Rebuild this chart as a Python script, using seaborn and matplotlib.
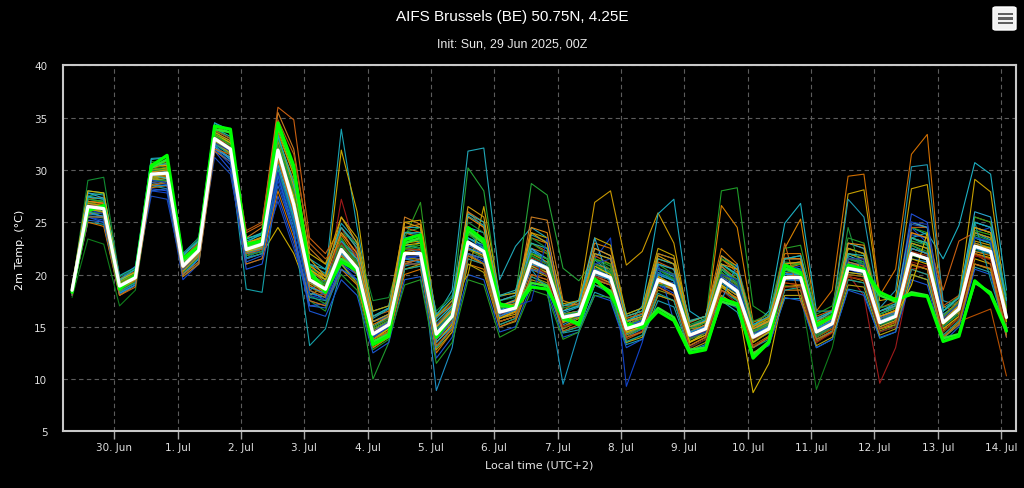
import numpy as np
import pandas as pd
import matplotlib
matplotlib.use('Agg')
import matplotlib.pyplot as plt
import matplotlib.dates as mdates
from matplotlib.ticker import MultipleLocator, FuncFormatter
from matplotlib.patches import FancyBboxPatch, Rectangle
import seaborn as sns

# Chart texts
title = 'AIFS Brussels (BE) 50.75N, 4.25E'
subtitle = 'Init: Sun, 29 Jun 2025, 00Z'
y_label = '2m Temp. (°C)'
x_label = 'Local time (UTC+2)'

# 6-hourly steps in local time, first output step +6h after 00Z init
first_step = '2025-06-29 08:00'
n_steps = 60

# Ensemble mean (white) and the two highlighted runs (green)
ens_mean = [18.5, 26.5, 26.3, 18.9, 19.7, 29.6, 29.7, 20.8, 22.3, 33.0,
            32.0, 22.4, 22.9, 31.9, 26.7, 19.5, 18.6, 22.4, 20.6, 14.3,
            15.2, 22.0, 22.0, 14.3, 16.0, 23.1, 22.2, 16.4, 16.8, 21.3,
            20.6, 15.9, 16.2, 20.3, 19.7, 14.8, 15.3, 19.5, 18.9, 14.2,
            14.8, 19.5, 18.4, 14.0, 14.8, 19.7, 19.7, 14.5, 15.3, 20.6,
            20.3, 15.4, 16.0, 22.0, 21.5, 15.4, 16.7, 22.7, 22.2, 15.9]
green1 = [18.3, 26.1, 26.6, 18.6, 19.9, 30.4, 31.4, 21.5, 22.7, 34.2,
          33.9, 22.9, 23.2, 34.5, 30.4, 20.2, 18.3, 21.2, 20.4, 13.3,
          14.1, 23.3, 23.8, 14.0, 16.0, 24.5, 23.3, 17.2, 16.8, 18.8,
          18.6, 15.9, 15.2, 19.6, 18.1, 15.3, 14.9, 16.5, 15.6, 12.5,
          12.8, 17.7, 17.2, 12.0, 13.5, 20.9, 20.2, 15.1, 16.0, 20.9,
          20.5, 18.3, 17.6, 18.1, 17.9, 13.6, 14.1, 19.4, 18.1, 14.6]
green2 = [18.4, 26.4, 26.4, 18.8, 19.7, 30.2, 31.0, 21.3, 22.5, 33.9,
          33.6, 22.6, 23.0, 34.2, 30.0, 20.4, 18.5, 21.5, 20.6, 13.6,
          14.3, 23.0, 23.5, 14.2, 16.1, 24.2, 23.0, 17.0, 16.9, 19.2,
          18.9, 15.7, 15.4, 19.4, 18.4, 15.1, 15.0, 16.8, 15.9, 12.8,
          13.0, 17.4, 17.0, 12.3, 13.6, 20.6, 20.0, 15.3, 15.9, 20.7,
          20.3, 18.0, 17.4, 18.3, 18.0, 13.9, 14.3, 19.2, 18.3, 14.8]

# Ensemble members
m01 = [18.4, 27.2, 27.0, 19.2, 20.1, 29.1, 29.8, 21.0, 22.8, 33.4,
       32.5, 22.0, 23.4, 32.8, 28.0, 20.6, 19.8, 33.9, 24.5, 16.0,
       16.8, 23.5, 23.0, 15.0, 16.5, 24.0, 22.5, 17.0, 17.4, 22.5,
       21.0, 16.3, 16.9, 21.4, 20.2, 15.5, 16.0, 20.5, 19.8, 14.8,
       15.6, 20.8, 19.0, 14.6, 15.1, 21.0, 20.5, 15.2, 15.8, 21.5,
       21.0, 16.0, 16.4, 23.5, 22.8, 16.2, 17.3, 24.0, 23.3, 16.8]
m02 = [18.7, 26.0, 25.5, 18.5, 19.4, 28.6, 28.9, 20.3, 21.8, 32.0,
       31.2, 21.5, 22.0, 24.5, 22.0, 18.0, 18.9, 31.9, 26.0, 15.0,
       15.8, 21.0, 21.5, 13.5, 15.2, 22.0, 21.0, 15.8, 16.2, 20.5,
       19.8, 15.0, 15.8, 19.6, 19.0, 14.2, 14.9, 18.8, 18.0, 13.6,
       14.2, 18.8, 17.7, 13.2, 14.1, 18.9, 18.8, 13.8, 14.6, 19.8,
       19.4, 14.8, 15.2, 20.9, 20.5, 14.6, 15.8, 21.5, 21.0, 15.0]
m03 = [18.6, 26.8, 26.9, 19.0, 19.5, 29.8, 30.2, 20.6, 22.0, 33.2,
       32.2, 22.8, 23.0, 30.5, 25.0, 19.0, 18.2, 27.2, 22.0, 14.0,
       15.0, 21.5, 21.8, 14.2, 15.8, 22.5, 21.8, 16.0, 16.5, 21.0,
       20.2, 15.6, 15.9, 20.0, 19.2, 14.5, 15.0, 19.0, 18.5, 13.9,
       14.5, 19.0, 18.0, 13.5, 14.5, 19.2, 19.0, 14.0, 14.8, 20.0,
       18.0, 9.6, 13.0, 20.5, 20.8, 14.8, 16.0, 21.8, 21.5, 15.2]
m04 = [18.2, 25.0, 24.8, 18.0, 19.0, 28.5, 28.2, 19.8, 21.0, 32.4,
       31.0, 18.6, 18.3, 29.5, 24.5, 13.2, 14.8, 20.5, 19.5, 13.5,
       14.5, 20.8, 21.2, 13.8, 15.5, 22.8, 22.0, 16.5, 17.0, 21.8,
       21.0, 16.2, 16.5, 20.8, 20.0, 15.2, 15.5, 20.0, 19.4, 14.6,
       15.0, 20.2, 19.0, 14.4, 15.2, 20.4, 20.0, 14.9, 15.6, 21.2,
       20.8, 16.0, 16.5, 22.8, 22.0, 15.9, 17.2, 23.5, 23.0, 16.5]
m05 = [18.0, 27.5, 27.8, 19.5, 20.0, 30.5, 30.8, 21.5, 23.0, 34.0,
       33.0, 23.5, 23.8, 33.5, 27.0, 17.5, 16.5, 21.0, 19.0, 10.0,
       13.5, 22.5, 23.0, 15.0, 16.2, 23.5, 22.8, 16.8, 17.0, 22.0,
       21.5, 15.0, 15.5, 20.8, 20.3, 14.0, 15.0, 20.2, 19.5, 13.5,
       14.4, 20.5, 19.2, 13.8, 14.6, 20.5, 20.2, 14.2, 15.0, 21.0,
       20.6, 15.0, 15.8, 22.5, 22.0, 15.0, 16.2, 23.0, 22.5, 15.5]
m06 = [18.3, 26.2, 26.0, 18.8, 19.8, 29.4, 29.5, 21.2, 22.5, 33.2,
       32.0, 22.0, 22.5, 32.0, 26.0, 18.5, 17.5, 23.0, 21.5, 14.8,
       15.6, 23.0, 22.5, 8.9, 13.0, 22.0, 21.5, 15.5, 16.0, 20.8,
       20.0, 15.2, 15.9, 19.8, 19.2, 14.3, 15.0, 19.0, 18.6, 13.8,
       14.6, 19.0, 18.0, 13.6, 14.4, 19.5, 19.4, 14.2, 15.0, 20.2,
       20.0, 15.2, 15.8, 21.5, 21.2, 15.0, 16.4, 22.2, 22.0, 15.8]
m07 = [18.8, 27.8, 27.6, 19.8, 20.5, 31.0, 31.2, 22.0, 23.5, 34.5,
       33.8, 23.0, 24.0, 33.0, 28.5, 21.0, 20.5, 24.5, 22.8, 16.5,
       17.0, 24.0, 23.8, 16.0, 18.5, 31.8, 32.1, 19.5, 22.7, 24.5,
       23.5, 17.0, 17.2, 22.5, 21.8, 16.2, 16.8, 22.0, 21.5, 15.6,
       16.0, 21.8, 20.5, 15.2, 16.0, 21.5, 21.5, 15.8, 16.5, 22.5,
       22.0, 16.5, 17.0, 24.5, 23.8, 16.8, 17.8, 25.0, 24.5, 17.5]
m08 = [18.5, 26.9, 27.0, 19.3, 20.2, 30.0, 30.2, 21.0, 22.6, 33.5,
       32.8, 22.5, 23.2, 32.5, 27.5, 20.0, 19.0, 23.5, 21.0, 15.5,
       16.2, 24.0, 24.5, 15.5, 17.0, 30.2, 28.0, 17.5, 18.0, 28.7,
       27.6, 20.6, 19.4, 21.5, 20.8, 15.8, 16.2, 21.0, 20.5, 15.2,
       15.8, 21.0, 20.0, 15.0, 15.6, 21.2, 21.0, 15.4, 16.0, 22.0,
       21.5, 16.2, 16.8, 23.2, 22.8, 16.0, 17.2, 23.8, 23.2, 16.8]
m09 = [18.4, 25.8, 25.6, 18.6, 19.6, 29.2, 29.0, 20.5, 22.0, 32.8,
       31.6, 22.2, 22.8, 31.0, 26.2, 19.8, 19.0, 22.5, 20.5, 14.5,
       15.5, 22.2, 22.0, 14.5, 16.2, 23.5, 22.5, 16.2, 16.8, 20.5,
       18.5, 9.5, 14.5, 19.5, 19.0, 14.0, 14.8, 19.2, 18.8, 14.0,
       14.6, 19.2, 18.2, 13.9, 14.6, 19.6, 19.6, 14.5, 15.2, 20.5,
       20.2, 15.4, 15.9, 22.0, 21.5, 15.4, 16.6, 22.6, 22.2, 15.8]
m10 = [18.9, 27.0, 26.8, 19.0, 19.5, 29.0, 29.5, 20.5, 21.5, 32.5,
       31.8, 22.5, 23.0, 33.0, 29.0, 21.0, 19.5, 23.0, 21.0, 14.8,
       15.5, 23.0, 23.2, 15.2, 16.8, 24.0, 23.0, 17.0, 17.5, 22.0,
       21.2, 16.5, 17.5, 26.9, 28.0, 20.9, 22.2, 25.9, 23.0, 15.0,
       15.5, 20.0, 19.0, 14.5, 15.3, 20.2, 20.0, 14.8, 15.6, 21.0,
       20.8, 15.8, 16.3, 22.5, 22.0, 15.8, 17.0, 23.2, 22.8, 16.2]
m11 = [18.0, 25.5, 25.2, 18.2, 19.0, 28.0, 27.8, 19.5, 21.0, 32.0,
       30.5, 21.0, 21.5, 29.0, 24.0, 17.5, 17.0, 21.0, 19.5, 13.5,
       14.5, 21.0, 21.0, 13.8, 15.5, 22.0, 21.2, 15.8, 16.4, 21.0,
       20.0, 15.5, 16.0, 21.5, 23.5, 9.3, 13.5, 19.0, 18.2, 13.8,
       14.4, 19.0, 18.0, 13.6, 14.5, 19.5, 19.5, 14.2, 15.0, 20.5,
       20.0, 15.0, 15.6, 24.5, 23.0, 15.2, 16.5, 23.0, 22.5, 15.2]
m12 = [18.6, 26.5, 26.0, 18.8, 19.9, 29.5, 29.9, 21.0, 22.4, 33.0,
       32.2, 22.5, 23.0, 31.5, 26.5, 19.2, 18.5, 22.0, 20.8, 14.6,
       15.4, 22.0, 22.2, 14.6, 16.4, 23.2, 22.4, 16.6, 17.2, 21.5,
       20.8, 16.0, 16.5, 20.5, 20.2, 15.0, 17.0, 25.8, 27.2, 16.5,
       15.5, 20.5, 19.2, 14.6, 15.4, 20.5, 20.5, 15.0, 15.8, 21.6,
       21.0, 15.8, 16.3, 23.0, 22.5, 16.0, 17.0, 23.6, 23.0, 16.4]
m13 = [18.3, 26.4, 26.6, 19.1, 19.8, 30.2, 30.5, 21.2, 22.8, 33.6,
       32.6, 22.8, 23.5, 33.0, 27.8, 20.0, 19.0, 22.8, 21.0, 14.5,
       15.2, 22.4, 22.6, 14.6, 16.3, 23.8, 23.0, 16.8, 17.0, 21.8,
       21.0, 16.0, 16.4, 20.6, 20.0, 15.0, 15.6, 20.0, 19.4, 14.4,
       15.5, 28.0, 28.3, 17.0, 16.0, 20.0, 20.0, 14.8, 15.5, 21.0,
       20.6, 15.6, 16.2, 22.5, 22.0, 15.5, 16.8, 23.0, 22.6, 16.0]
m14 = [17.8, 23.4, 22.9, 17.0, 18.5, 28.5, 28.8, 20.0, 21.5, 32.5,
       31.5, 21.8, 22.5, 30.0, 25.5, 18.8, 18.0, 22.0, 20.2, 13.8,
       14.8, 21.5, 21.8, 14.0, 15.8, 22.5, 21.8, 16.0, 16.5, 21.0,
       20.2, 15.5, 16.0, 20.0, 19.5, 14.5, 15.0, 19.5, 19.0, 14.0,
       14.5, 19.5, 18.5, 13.8, 14.5, 19.0, 18.5, 9.0, 13.0, 20.0,
       19.8, 15.2, 15.8, 21.8, 21.4, 15.2, 16.4, 22.4, 22.0, 15.4]
m15 = [18.5, 26.6, 26.4, 19.0, 19.6, 29.0, 29.2, 20.8, 22.0, 32.8,
       31.5, 22.0, 22.5, 31.8, 26.8, 19.5, 18.2, 21.5, 20.0, 13.0,
       14.0, 21.5, 21.5, 13.0, 14.8, 22.0, 21.5, 15.5, 16.0, 20.8,
       20.2, 15.4, 16.0, 20.0, 19.5, 14.4, 15.0, 19.3, 18.5, 13.5,
       14.5, 19.0, 17.5, 8.7, 11.5, 18.8, 19.0, 14.0, 15.0, 20.2,
       20.0, 15.0, 15.6, 21.5, 21.0, 14.8, 16.0, 22.0, 21.6, 15.0]
m16 = [18.7, 27.5, 27.2, 19.4, 20.3, 30.0, 30.0, 21.5, 23.0, 33.8,
       33.0, 23.2, 23.8, 32.6, 27.2, 20.2, 19.5, 23.2, 21.5, 15.5,
       16.0, 22.8, 22.5, 15.0, 16.8, 23.5, 22.8, 17.0, 17.6, 22.2,
       21.5, 16.5, 17.0, 21.0, 20.5, 15.6, 16.2, 20.6, 20.0, 15.0,
       15.8, 20.5, 19.5, 15.0, 16.5, 24.9, 26.8, 16.5, 16.5, 21.8,
       21.2, 16.2, 17.0, 23.5, 24.0, 21.5, 24.7, 30.7, 29.6, 18.5]
m17 = [18.6, 26.8, 26.5, 19.0, 19.8, 29.7, 29.6, 20.5, 22.5, 33.2,
       32.0, 23.0, 23.5, 33.5, 29.5, 20.5, 19.2, 23.8, 21.5, 15.0,
       15.8, 24.0, 23.5, 14.5, 16.0, 23.0, 22.0, 16.0, 16.5, 22.5,
       22.0, 16.2, 16.5, 20.5, 19.8, 14.8, 15.5, 19.8, 19.0, 14.2,
       15.0, 20.2, 19.0, 14.2, 16.0, 20.5, 21.0, 16.5, 18.5, 29.4,
       29.6, 18.0, 20.5, 31.5, 33.4, 17.0, 16.2, 22.0, 21.5, 15.5]
m18 = [18.4, 26.2, 26.0, 18.6, 19.4, 29.2, 29.4, 20.6, 22.0, 32.6,
       31.8, 22.2, 22.6, 32.2, 27.0, 19.8, 18.8, 22.5, 20.8, 14.6,
       15.4, 22.2, 22.4, 14.4, 16.0, 23.0, 22.0, 16.2, 16.8, 21.2,
       20.5, 15.8, 16.2, 20.2, 19.6, 14.8, 15.3, 19.6, 19.0, 14.2,
       14.9, 19.8, 18.8, 14.2, 15.0, 20.8, 21.0, 15.5, 16.2, 27.7,
       28.1, 17.5, 17.8, 28.2, 28.6, 16.5, 17.8, 29.1, 27.9, 17.0]
m19 = [18.2, 26.6, 26.4, 18.7, 19.7, 29.8, 30.0, 20.8, 22.2, 33.0,
       32.0, 22.6, 23.0, 31.8, 26.8, 19.5, 18.6, 22.2, 20.6, 14.2,
       15.2, 22.0, 22.0, 14.2, 15.8, 23.0, 22.2, 16.4, 16.8, 21.4,
       20.6, 15.8, 16.2, 20.4, 19.8, 14.8, 15.2, 19.8, 19.0, 14.3,
       14.9, 19.6, 18.6, 14.2, 15.0, 20.0, 20.2, 15.0, 16.0, 27.2,
       25.5, 16.8, 18.5, 30.3, 30.5, 17.5, 17.0, 24.5, 24.0, 17.0]
m20 = [18.7, 27.0, 26.8, 19.2, 20.0, 30.2, 30.4, 21.4, 23.2, 34.2,
       33.5, 24.0, 24.8, 36.0, 34.8, 23.5, 22.0, 24.5, 22.5, 16.0,
       16.5, 24.5, 24.0, 15.8, 17.2, 26.0, 24.5, 17.5, 18.0, 23.0,
       22.2, 16.8, 17.2, 21.8, 21.0, 15.8, 16.3, 21.2, 20.5, 15.4,
       16.0, 21.5, 20.2, 15.4, 16.2, 21.6, 21.5, 16.0, 16.6, 22.5,
       22.0, 16.8, 17.4, 24.0, 23.5, 18.5, 23.2, 24.0, 23.5, 17.5]
m21 = [18.3, 25.8, 25.9, 18.4, 19.2, 28.8, 29.0, 20.2, 21.8, 32.2,
       31.2, 21.8, 22.2, 31.0, 26.0, 19.0, 18.0, 22.0, 20.0, 13.8,
       14.6, 21.2, 21.4, 13.8, 15.4, 22.4, 21.6, 15.8, 16.4, 20.6,
       20.0, 15.5, 15.9, 19.8, 19.2, 14.5, 15.0, 19.2, 18.7, 14.0,
       14.8, 26.6, 24.5, 15.5, 15.8, 22.5, 25.3, 15.8, 16.0, 21.0,
       20.5, 15.5, 16.0, 22.0, 21.5, 15.3, 16.4, 22.2, 21.8, 15.6]
m22 = [18.4, 26.3, 26.2, 18.8, 19.6, 29.5, 29.4, 20.4, 22.0, 33.0,
       32.5, 22.4, 22.8, 34.5, 30.0, 18.8, 18.0, 22.0, 20.5, 14.0,
       15.0, 21.8, 22.5, 14.0, 15.6, 22.6, 21.8, 16.0, 16.5, 21.0,
       20.4, 15.8, 16.0, 20.0, 19.5, 14.6, 15.2, 19.5, 18.8, 13.8,
       14.5, 19.4, 18.5, 13.6, 14.5, 19.2, 19.0, 14.0, 14.8, 19.8,
       19.5, 14.8, 15.5, 20.5, 20.0, 14.2, 15.5, 16.1, 16.7, 10.3]
m23 = [18.6, 26.0, 25.8, 19.5, 20.8, 28.2, 28.0, 21.8, 23.5, 31.8,
       30.0, 20.5, 21.0, 27.5, 23.0, 17.0, 17.2, 21.0, 20.0, 14.5,
       15.5, 21.5, 21.8, 14.8, 16.0, 22.8, 22.2, 16.5, 17.0, 21.2,
       20.6, 15.8, 16.4, 20.5, 19.8, 14.8, 15.4, 19.5, 19.0, 14.2,
       14.8, 19.6, 18.6, 14.0, 14.8, 19.8, 20.0, 14.8, 15.4, 21.0,
       21.0, 16.2, 16.8, 25.8, 25.0, 16.5, 17.5, 24.0, 23.5, 16.0]
m24 = [18.2, 26.8, 26.5, 18.5, 19.2, 29.0, 29.0, 20.0, 21.5, 32.5,
       31.5, 22.0, 22.2, 30.0, 25.0, 18.5, 19.5, 23.2, 21.8, 15.5,
       16.2, 22.5, 22.2, 14.8, 16.5, 23.2, 22.0, 16.8, 17.0, 22.5,
       21.0, 16.2, 16.0, 20.0, 19.5, 15.2, 15.8, 20.2, 19.5, 14.8,
       15.4, 20.5, 19.5, 15.0, 15.5, 20.2, 19.5, 14.6, 15.8, 22.0,
       21.5, 16.2, 16.8, 23.0, 22.5, 16.0, 17.0, 22.5, 22.0, 16.2]
m25 = [18.5, 27.0, 26.5, 18.2, 19.0, 30.8, 30.6, 20.8, 22.5, 33.8,
       32.4, 22.6, 23.2, 33.2, 28.5, 19.8, 18.5, 23.5, 21.2, 14.0,
       14.8, 23.5, 26.9, 15.0, 16.5, 24.0, 23.2, 16.8, 17.2, 23.0,
       22.0, 16.0, 16.5, 21.0, 20.5, 15.2, 15.6, 21.0, 20.0, 14.5,
       15.2, 21.0, 19.8, 14.6, 15.4, 20.5, 20.2, 14.2, 15.2, 21.5,
       21.2, 15.8, 16.2, 22.8, 22.2, 15.5, 16.5, 23.5, 23.0, 16.5]
m26 = [18.8, 26.2, 26.0, 19.0, 19.8, 29.2, 29.3, 20.8, 22.2, 32.8,
       31.8, 22.3, 22.6, 31.2, 26.0, 20.5, 19.5, 21.8, 20.2, 13.5,
       14.2, 20.5, 20.8, 13.5, 15.2, 21.8, 21.0, 15.2, 15.8, 19.8,
       19.2, 14.8, 15.5, 19.5, 19.0, 14.0, 14.5, 18.5, 18.0, 13.2,
       14.0, 18.5, 17.5, 13.2, 14.0, 18.5, 18.5, 13.6, 14.5, 19.5,
       19.2, 14.6, 15.2, 21.0, 20.5, 14.5, 15.8, 21.0, 20.5, 14.8]
m27 = [18.2, 26.5, 26.6, 18.6, 19.4, 29.4, 29.6, 20.4, 21.6, 33.4,
       32.6, 23.5, 24.5, 35.5, 32.0, 22.5, 21.0, 24.0, 22.0, 15.0,
       16.0, 25.5, 24.8, 16.0, 17.0, 26.0, 25.0, 17.0, 17.0, 25.5,
       25.2, 17.5, 17.0, 21.0, 20.5, 15.5, 15.8, 20.5, 20.0, 14.8,
       15.0, 20.8, 19.5, 14.5, 15.0, 20.0, 19.8, 14.6, 15.5, 21.2,
       20.8, 15.8, 16.4, 22.5, 22.0, 15.6, 16.8, 23.0, 22.5, 16.0]
m28 = [18.0, 25.6, 25.5, 18.9, 19.9, 27.5, 27.2, 20.2, 21.8, 31.2,
       29.6, 21.5, 22.5, 27.0, 22.5, 17.8, 18.2, 21.5, 20.5, 15.5,
       16.0, 21.8, 21.5, 15.2, 16.5, 22.5, 21.8, 16.8, 17.5, 21.0,
       20.5, 16.2, 16.5, 20.2, 19.8, 15.2, 15.6, 19.5, 19.2, 14.6,
       15.0, 19.5, 18.8, 14.4, 15.0, 19.8, 19.8, 14.6, 15.2, 20.5,
       20.2, 15.6, 16.0, 24.8, 24.5, 16.0, 16.8, 24.0, 24.5, 17.2]
m29 = [18.5, 26.6, 26.8, 19.0, 19.4, 29.8, 30.0, 20.5, 22.0, 33.2,
       32.4, 22.8, 23.0, 32.0, 27.5, 19.6, 18.4, 24.5, 21.5, 14.2,
       15.0, 22.5, 22.3, 14.5, 16.0, 23.0, 22.0, 16.2, 16.6, 21.6,
       21.0, 15.8, 16.2, 20.4, 19.8, 14.6, 15.2, 19.8, 19.0, 14.0,
       14.6, 19.5, 18.5, 13.8, 14.6, 19.8, 19.6, 14.4, 15.2, 20.8,
       20.5, 15.5, 16.0, 22.2, 21.8, 15.6, 16.8, 22.8, 22.4, 15.8]
m30 = [18.6, 29.0, 29.3, 19.8, 20.6, 30.4, 30.2, 21.6, 23.6, 33.6,
       32.2, 22.4, 23.2, 31.5, 26.5, 20.5, 20.0, 24.0, 23.0, 17.5,
       17.8, 23.0, 22.5, 16.5, 18.0, 22.5, 21.5, 17.5, 17.8, 21.8,
       21.0, 16.8, 17.0, 21.0, 20.2, 16.0, 16.5, 20.5, 19.6, 15.0,
       15.8, 20.2, 19.2, 15.0, 15.8, 20.5, 20.4, 15.6, 16.2, 21.5,
       21.0, 16.5, 17.0, 23.0, 22.5, 16.5, 17.5, 23.5, 23.0, 17.0]
m31 = [18.8, 28.0, 27.8, 19.9, 20.7, 31.1, 31.2, 21.8, 23.3, 34.5,
       33.5, 23.4, 23.9, 33.4, 28.2, 21.0, 20.1, 24.9, 23.1, 15.8,
       16.7, 24.5, 24.5, 15.8, 17.5, 25.6, 24.7, 17.9, 18.3, 23.8,
       23.1, 14.4, 14.7, 18.3, 17.7, 13.3, 13.8, 17.5, 16.9, 12.7,
       13.3, 17.5, 16.4, 12.5, 13.3, 17.7, 17.7, 13.0, 13.8, 18.6,
       18.3, 13.9, 14.5, 20.0, 19.5, 13.9, 15.2, 20.7, 20.2, 14.4]
m32 = [18.2, 25.0, 24.6, 18.0, 19.0, 28.3, 28.5, 19.8, 21.0, 31.8,
       30.8, 21.0, 21.5, 28.0, 23.5, 17.5, 17.0, 20.5, 19.0, 13.0,
       14.0, 20.0, 20.5, 12.5, 14.5, 21.0, 20.5, 15.5, 16.0, 23.5,
       23.0, 17.0, 17.5, 23.0, 22.5, 16.0, 16.5, 22.0, 21.5, 15.5,
       16.0, 22.5, 21.0, 15.0, 16.0, 22.0, 22.0, 15.5, 16.5, 23.0,
       22.5, 16.5, 17.0, 25.0, 24.5, 16.0, 17.5, 25.5, 25.0, 17.5]
m33 = [18.3, 25.5, 25.0, 18.2, 19.0, 28.8, 28.6, 20.0, 21.5, 32.3,
       31.0, 21.2, 21.8, 29.5, 24.0, 16.5, 16.0, 19.5, 18.0, 12.5,
       13.5, 19.5, 19.8, 12.0, 14.0, 20.0, 19.5, 14.5, 15.0, 19.0,
       18.5, 14.0, 14.5, 18.0, 17.5, 13.0, 13.8, 21.0, 15.5, 12.5,
       13.2, 17.5, 16.8, 12.5, 13.2, 17.8, 17.5, 13.0, 13.8, 18.5,
       18.0, 14.0, 14.5, 19.5, 19.0, 13.5, 15.0, 20.5, 20.0, 14.0]
m34 = [18.6, 26.8, 26.6, 19.3, 20.0, 30.0, 30.2, 21.2, 22.8, 33.3,
       32.4, 23.0, 23.6, 33.8, 29.5, 22.0, 21.0, 25.5, 23.5, 16.5,
       17.0, 25.0, 25.2, 16.0, 17.5, 20.0, 26.5, 18.0, 18.2, 24.0,
       23.5, 17.2, 17.5, 23.5, 22.8, 16.2, 16.8, 22.5, 21.8, 15.5,
       16.0, 21.5, 20.5, 15.0, 15.8, 21.0, 21.2, 15.2, 16.0, 22.0,
       21.5, 16.0, 16.5, 23.5, 23.0, 15.8, 17.0, 24.0, 23.5, 16.5]
m35 = [18.4, 26.0, 25.8, 18.5, 19.3, 29.0, 29.0, 20.2, 21.6, 32.6,
       31.5, 21.8, 22.2, 30.5, 25.0, 18.0, 17.2, 20.0, 18.5, 12.8,
       13.8, 19.0, 19.5, 11.5, 13.5, 19.5, 19.0, 14.0, 14.8, 18.5,
       18.0, 13.8, 14.5, 18.0, 17.8, 13.5, 14.2, 19.0, 19.0, 14.5,
       15.2, 21.5, 20.8, 15.5, 16.2, 22.5, 22.8, 16.2, 17.0, 23.5,
       23.0, 16.8, 17.2, 24.5, 24.0, 16.5, 18.0, 25.5, 25.0, 18.0]
m36 = [18.5, 27.2, 27.4, 19.6, 20.3, 30.5, 30.8, 21.6, 23.0, 33.8,
       33.0, 24.2, 25.0, 34.8, 31.5, 23.0, 21.5, 23.0, 21.0, 14.0,
       14.8, 21.0, 21.0, 13.0, 15.0, 21.5, 21.0, 15.5, 16.0, 20.0,
       19.5, 15.0, 15.5, 19.0, 18.5, 13.8, 14.5, 18.0, 17.5, 13.2,
       14.0, 18.0, 17.0, 13.0, 14.0, 18.5, 18.5, 13.5, 14.5, 21.5,
       21.5, 16.5, 17.0, 24.5, 24.5, 17.0, 18.0, 22.0, 21.0, 14.5]
m37 = [18.7, 27.8, 27.3, 19.0, 19.8, 29.5, 29.2, 20.5, 22.0, 32.2,
       31.0, 22.0, 22.8, 31.0, 25.5, 18.8, 18.2, 22.8, 21.5, 15.0,
       16.0, 23.5, 23.8, 15.5, 17.0, 24.5, 24.0, 17.5, 18.0, 22.5,
       21.5, 16.5, 17.0, 23.5, 19.0, 15.5, 16.0, 21.0, 20.5, 15.0,
       15.6, 21.0, 20.0, 14.8, 15.5, 21.5, 21.8, 15.6, 16.4, 23.0,
       22.5, 16.5, 17.2, 25.0, 24.5, 16.5, 17.8, 26.0, 25.5, 17.5]
m38 = [18.3, 26.2, 26.0, 18.6, 19.5, 29.3, 29.6, 20.3, 21.8, 32.6,
       31.6, 22.4, 22.6, 31.0, 26.5, 19.2, 18.3, 21.0, 19.2, 13.2,
       14.2, 20.5, 21.0, 12.8, 14.5, 21.0, 20.2, 15.0, 15.5, 19.5,
       19.0, 14.5, 15.0, 19.0, 18.5, 13.5, 14.0, 18.0, 17.5, 12.8,
       13.5, 18.0, 17.0, 12.5, 13.5, 18.0, 18.0, 13.2, 14.0, 19.0,
       18.8, 14.2, 14.8, 20.0, 19.5, 14.0, 15.4, 21.0, 20.5, 14.2]
m39 = [18.5, 26.5, 26.5, 19.0, 19.9, 30.0, 29.9, 20.9, 22.5, 33.2,
       32.5, 22.6, 23.0, 32.5, 27.5, 20.0, 19.2, 23.0, 21.2, 15.0,
       15.8, 23.5, 23.2, 14.8, 16.5, 25.0, 24.0, 16.8, 17.2, 23.5,
       22.5, 15.5, 16.0, 21.5, 20.5, 14.5, 15.0, 20.5, 19.5, 13.8,
       14.5, 20.0, 19.0, 13.5, 14.5, 20.5, 20.0, 14.0, 15.0, 24.5,
       19.5, 15.2, 15.8, 23.0, 22.5, 15.0, 16.5, 23.5, 23.0, 15.5]
m40 = [18.1, 25.2, 25.0, 18.8, 20.0, 28.0, 28.2, 21.0, 22.8, 32.0,
       30.8, 21.5, 22.0, 28.5, 24.0, 17.0, 16.8, 20.5, 19.5, 14.0,
       15.0, 21.0, 21.5, 13.8, 15.5, 22.0, 21.5, 16.0, 16.8, 20.5,
       20.0, 15.8, 16.5, 20.5, 19.8, 15.0, 15.6, 19.5, 18.8, 14.4,
       15.2, 19.8, 18.8, 14.5, 15.2, 20.0, 20.2, 15.0, 15.8, 21.0,
       20.6, 15.8, 16.4, 23.8, 23.5, 16.0, 17.2, 25.0, 24.5, 16.5]
m41 = [18.6, 27.0, 26.8, 19.2, 19.8, 30.2, 30.6, 21.2, 22.4, 33.6,
       32.8, 22.8, 23.2, 32.8, 28.5, 20.8, 19.8, 24.0, 22.0, 15.2,
       16.0, 24.5, 24.8, 15.0, 16.6, 25.5, 24.5, 17.0, 17.5, 24.5,
       24.0, 16.2, 16.5, 22.5, 21.8, 15.2, 15.8, 21.5, 21.0, 14.5,
       15.2, 21.8, 20.8, 14.8, 15.5, 21.5, 21.5, 15.0, 15.8, 23.0,
       22.8, 16.0, 16.6, 24.0, 23.5, 15.8, 17.2, 24.5, 24.0, 16.0]
m42 = [18.3, 25.6, 25.4, 18.3, 19.2, 29.0, 28.8, 20.0, 21.2, 32.5,
       31.4, 21.6, 22.0, 30.0, 25.0, 17.8, 17.5, 21.5, 20.0, 13.5,
       14.5, 20.5, 20.8, 13.0, 14.8, 21.5, 21.0, 15.2, 15.8, 19.8,
       19.0, 14.5, 15.0, 19.0, 18.2, 13.6, 14.2, 18.2, 17.5, 13.0,
       13.8, 18.5, 17.5, 13.0, 13.8, 18.5, 18.8, 13.8, 14.6, 19.5,
       19.2, 14.5, 15.0, 20.5, 20.0, 14.2, 15.6, 25.0, 19.5, 14.5]
m43 = [18.4, 26.4, 26.2, 18.7, 19.6, 29.6, 29.8, 20.8, 22.2, 33.0,
       32.2, 22.5, 23.0, 32.0, 26.8, 19.5, 18.8, 23.0, 21.0, 14.5,
       15.2, 22.0, 22.0, 14.0, 15.8, 23.0, 22.0, 16.0, 16.5, 21.0,
       20.0, 15.0, 15.4, 19.8, 19.0, 14.0, 14.6, 18.8, 18.0, 13.0,
       13.8, 18.5, 17.2, 13.2, 14.0, 18.8, 18.8, 13.5, 14.4, 19.8,
       19.5, 14.5, 15.0, 21.2, 20.8, 14.5, 15.8, 21.8, 21.4, 15.0]
m44 = [18.9, 28.0, 27.8, 19.5, 20.2, 30.6, 30.4, 21.4, 22.6, 33.4,
       32.6, 22.2, 22.5, 31.5, 27.5, 20.5, 19.5, 22.0, 20.5, 13.8,
       14.8, 22.8, 23.0, 13.5, 15.2, 22.5, 21.8, 15.8, 16.5, 21.0,
       20.5, 15.5, 16.2, 20.8, 20.0, 14.5, 15.0, 19.8, 19.0, 13.5,
       14.2, 19.0, 18.0, 13.5, 14.5, 19.5, 19.8, 14.5, 15.2, 20.8,
       20.5, 15.5, 16.0, 19.0, 24.0, 15.2, 16.6, 22.8, 22.5, 15.5]
m45 = [18.2, 26.0, 25.5, 18.2, 19.0, 28.5, 28.5, 20.0, 21.5, 32.0,
       31.2, 22.0, 22.5, 30.5, 25.5, 18.2, 17.8, 22.0, 20.5, 14.0,
       15.0, 21.5, 21.2, 13.5, 15.0, 22.5, 22.0, 16.0, 16.6, 21.0,
       20.5, 16.0, 16.5, 20.2, 19.5, 14.8, 15.4, 20.0, 19.4, 14.5,
       15.0, 17.5, 21.0, 14.2, 15.0, 20.0, 20.0, 14.8, 15.6, 21.0,
       20.5, 15.6, 16.2, 22.5, 22.0, 15.6, 16.8, 23.5, 23.0, 16.0]
m46 = [18.5, 27.2, 27.0, 19.2, 20.0, 30.2, 30.0, 21.0, 22.5, 33.4,
       32.4, 22.8, 23.4, 33.0, 28.0, 20.2, 19.0, 22.8, 21.0, 14.8,
       15.6, 22.5, 22.8, 14.5, 16.2, 24.0, 23.5, 16.8, 17.0, 22.0,
       21.5, 16.2, 16.4, 21.5, 21.0, 15.2, 15.8, 20.5, 20.0, 14.8,
       15.4, 20.5, 19.5, 14.5, 15.2, 20.8, 21.0, 15.2, 16.0, 22.5,
       22.0, 16.2, 16.8, 23.5, 23.0, 16.0, 17.3, 24.2, 23.8, 16.8]
m47 = [18.0, 25.5, 25.5, 18.0, 18.8, 28.5, 28.8, 20.0, 21.2, 32.0,
       31.5, 22.0, 22.4, 31.0, 26.0, 18.5, 17.8, 21.8, 20.0, 13.8,
       14.5, 21.0, 21.5, 13.2, 14.8, 21.8, 21.0, 15.0, 15.6, 20.0,
       19.5, 14.6, 15.2, 19.5, 19.0, 14.0, 14.5, 18.8, 18.0, 13.2,
       14.0, 18.5, 17.8, 13.0, 14.0, 23.0, 17.5, 13.8, 14.5, 20.0,
       19.8, 14.8, 15.4, 21.0, 20.5, 14.0, 15.2, 21.0, 20.6, 14.0]
m48 = [18.7, 27.4, 27.2, 19.5, 20.5, 30.4, 30.6, 21.8, 23.2, 34.0,
       33.2, 23.4, 24.0, 33.2, 28.8, 21.5, 20.5, 24.5, 22.5, 16.0,
       16.8, 24.0, 24.0, 16.2, 17.8, 25.8, 25.0, 18.0, 18.5, 23.0,
       22.5, 17.0, 17.5, 22.0, 21.5, 16.0, 16.5, 21.5, 21.0, 15.5,
       16.0, 21.0, 20.0, 15.2, 16.0, 21.5, 21.8, 15.8, 16.5, 22.0,
       21.8, 16.5, 17.0, 23.5, 23.0, 16.5, 17.8, 25.0, 24.5, 17.5]
m49 = [18.3, 26.2, 25.8, 18.9, 19.8, 29.0, 28.8, 20.5, 22.0, 32.6,
       31.8, 22.4, 23.0, 29.8, 24.8, 18.0, 17.6, 21.5, 20.2, 14.0,
       15.0, 21.6, 21.8, 14.2, 15.8, 23.0, 22.8, 16.2, 17.0, 17.5,
       23.5, 16.0, 16.0, 21.0, 21.5, 15.0, 15.0, 20.5, 20.0, 14.0,
       14.5, 20.0, 19.5, 14.0, 14.8, 20.5, 20.8, 14.5, 15.0, 21.5,
       21.5, 15.5, 16.0, 25.0, 24.8, 15.8, 17.2, 23.5, 23.2, 16.0]
m50 = [18.6, 26.0, 26.4, 18.8, 19.5, 29.8, 30.0, 20.6, 22.0, 33.0,
       32.0, 23.0, 23.5, 34.0, 30.5, 21.5, 19.8, 25.5, 23.0, 15.5,
       16.2, 25.0, 24.5, 15.0, 16.5, 26.5, 25.5, 17.0, 17.2, 24.0,
       23.0, 16.0, 16.2, 22.0, 21.5, 15.5, 16.0, 21.8, 21.0, 15.0,
       15.5, 21.0, 20.5, 14.8, 15.6, 21.0, 21.2, 15.2, 16.0, 22.5,
       22.0, 16.0, 16.5, 23.0, 22.5, 15.5, 17.0, 24.5, 24.0, 16.5]

members = [m01, m02, m03, m04, m05, m06, m07, m08, m09, m10,
           m11, m12, m13, m14, m15, m16, m17, m18, m19, m20,
           m21, m22, m23, m24, m25, m26, m27, m28, m29, m30,
           m31, m32, m33, m34, m35, m36, m37, m38, m39, m40,
           m41, m42, m43, m44, m45, m46, m47, m48, m49, m50]
member_colors = ['#19a3b3', '#c9a900', '#9e1a1a', '#14a0a8', '#1f9b2f',
                 '#1c8fc4', '#20a8b8', '#24a236', '#1795bb', '#c99800',
                 '#1243c9', '#19a9c2', '#1f9d29', '#0f7c1b', '#cfb000',
                 '#1cb0c2', '#d06e00', '#c7a000', '#1e97b1', '#c85f10',
                 '#d88200', '#b65000', '#2151d9', '#1a7fd1', '#2a9b21',
                 '#8d9a12', '#c87a20', '#1949b9', '#a13210', '#118b31',
                 '#1aa0b0', '#d27400', '#1a55d0', '#c2a400', '#259a25',
                 '#b45a10', '#2aa8d0', '#b0a010', '#1a8f3a', '#2060c8',
                 '#e08a10', '#139a9a', '#8a1a10', '#d4b400', '#1890d8',
                 '#30a818', '#c06818', '#20b0b0', '#1438b0', '#d09a10']

times = pd.date_range(first_step, periods=n_steps, freq='6h')
names = [f'm{i + 1:02d}' for i in range(len(members))]
df = pd.DataFrame({
    'time': np.tile(times, len(members)),
    'temp': np.concatenate(members),
    'member': np.repeat(names, n_steps),
})

sns.set_style('dark')
plt.rcParams['font.family'] = ['DejaVu Sans']

fig = plt.figure(figsize=(10.24, 4.89), dpi=100, facecolor='black')
ax = fig.add_axes([0.0612, 0.1159, 0.9307, 0.7483])
ax.set_facecolor('black')

sns.lineplot(data=df, x='time', y='temp', hue='member',
             palette=dict(zip(names, member_colors)), estimator=None,
             legend=False, linewidth=0.8, ax=ax)
sns.lineplot(x=times, y=green2, color='#2ee62e', linewidth=1.8, ax=ax)
sns.lineplot(x=times, y=green1, color='#00ff00', linewidth=2.3, ax=ax)
sns.lineplot(x=times, y=ens_mean, color='white', linewidth=2.4, ax=ax)

ax.set_ylim(5, 40)
ax.set_xlim(pd.Timestamp('2025-06-29 04:27'), pd.Timestamp('2025-07-14 05:30'))
ax.yaxis.set_major_locator(MultipleLocator(5))
ax.xaxis.set_major_locator(mdates.DayLocator())
ax.xaxis.set_major_formatter(FuncFormatter(
    lambda v, pos: f"{mdates.num2date(v).day}. {mdates.num2date(v).strftime('%b')}"))

ax.grid(True, color='#5c5c5c', linestyle=(0, (4, 3)), linewidth=0.8)
for s in ax.spines.values():
    s.set_visible(True)
    s.set_color('#c8c8c8')
    s.set_linewidth(1.5)

ax.tick_params(axis='x', length=6, width=1, color='#aaaaaa', labelcolor='#e0e0e0',
               labelsize=7.5, pad=2, bottom=True)
ax.tick_params(axis='y', length=0, labelcolor='#e0e0e0', labelsize=7.5, pad=11)
ax.set_xlabel('')
ax.set_ylabel('')

fig.text(0.5, 0.965, title, ha='center', va='center', color='white',
         fontsize=11, family=['Liberation Sans', 'DejaVu Sans'])
fig.text(0.5, 0.91, subtitle, ha='center', va='center', color='#e8e8e8',
         fontsize=9, family=['Liberation Sans', 'DejaVu Sans'])
fig.text(0.0195, 0.489, y_label, ha='center', va='center', rotation=90,
         color='white', fontsize=8)
fig.text(0.5264, 0.049, x_label, ha='center', va='center', color='#e8e8e8', fontsize=8)

# export menu button, top right
fig.patches.append(FancyBboxPatch((993 / 1024, 1 - 31 / 489), 23 / 1024, 23 / 489,
                                  boxstyle='round,pad=0,rounding_size=0.003',
                                  transform=fig.transFigure, facecolor='#f2f2f2',
                                  edgecolor='white', linewidth=1))
for yb in (15, 19.5, 24):
    fig.patches.append(Rectangle((997.5 / 1024, 1 - (yb + 1.3) / 489), 15.5 / 1024, 2.6 / 489,
                                 transform=fig.transFigure, facecolor='#606060',
                                 edgecolor='none'))

fig.savefig('out.png', dpi=100, facecolor='black')
